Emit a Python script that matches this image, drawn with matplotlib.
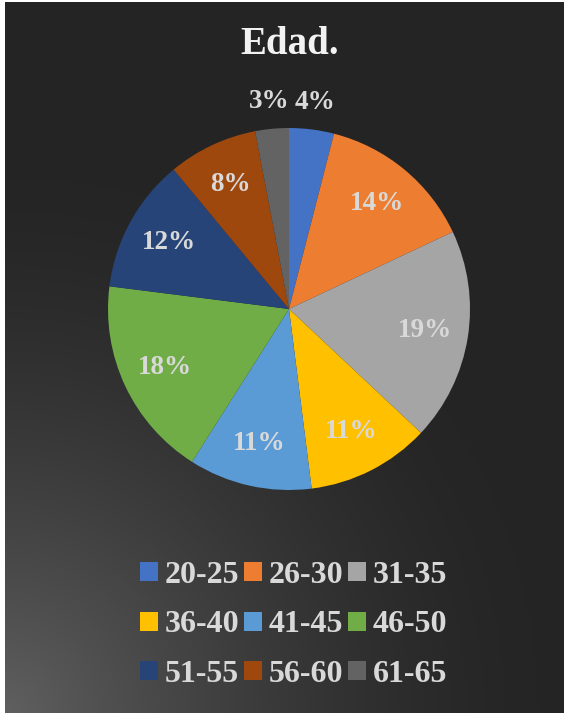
import matplotlib

matplotlib.use("Agg")

import matplotlib.pyplot as plt
import numpy as np
from matplotlib.patches import Patch

TITLE = "Edad."
AGE_GROUPS = ["20-25", "26-30", "31-35", "36-40", "41-45", "46-50", "51-55", "56-60", "61-65"]
SHARES = [4, 14, 19, 11, 11, 18, 12, 8, 3]
COLORS = ["#4472C4", "#ED7D31", "#A5A5A5", "#FFC000", "#5B9BD5", "#70AD47", "#264478", "#9E480E", "#636363"]

W, H = 564, 713
TEXT_COLOR = "#d9d9d9"
FONT = ["Liberation Serif", "DejaVu Serif"]

fig = plt.figure(figsize=(W / 100, H / 100), dpi=100, facecolor="white")

# background panel with a light glow in the lower-left corner
bg = fig.add_axes([5 / W, 0, (W - 5) / W, (H - 2) / H])
yy, xx = np.mgrid[0:H, 0:W]
dist = np.hypot(xx, H - yy) / 540.0
glow = np.clip(1 - dist, 0, 1) ** 1.5
shade = 0.145 + 0.23 * glow
bg.imshow(np.dstack([shade] * 3), extent=[0, 1, 0, 1], aspect="auto", origin="upper")
bg.set_axis_off()

cx, cy, r = 289, 309, 181
ax = fig.add_axes([(cx - r) / W, (H - cy - r) / H, 2 * r / W, 2 * r / H])
wedges, texts = ax.pie(
    SHARES,
    colors=COLORS,
    startangle=90,
    counterclock=False,
    radius=1,
    labels=[f"{v}%" for v in SHARES],
    labeldistance=0.76,
    wedgeprops={"linewidth": 0},
    textprops={"color": TEXT_COLOR, "fontsize": 19.5, "fontweight": "bold", "family": FONT},
)
for i in (0, len(SHARES) - 1):
    x, y = texts[i].get_position()
    scale = 1.15 / 0.76
    texts[i].set_position((x * scale, y * scale))
for t in texts:
    t.set_ha("center")
    t.set_va("center")
ax.set_xlim(-1, 1)
ax.set_ylim(-1, 1)
ax.set_aspect("equal")
ax.set_axis_off()

fig.text(290 / W, 1 - 44 / H, TITLE, ha="center", va="center", color="#f2f2f2",
         fontsize=28, fontweight="bold", family=FONT)

# legend fills column by column, so reorder to read across rows
ncol = 3
order = [row * ncol + col for col in range(ncol) for row in range(len(AGE_GROUPS) // ncol)]
handles = [Patch(facecolor=COLORS[i], edgecolor="none") for i in order]
labels = [AGE_GROUPS[i] for i in order]
leg = fig.legend(
    handles,
    labels,
    ncol=ncol,
    loc="center",
    bbox_to_anchor=(294 / W, 1 - 625 / H),
    frameon=False,
    handlelength=0.55,
    handleheight=0.55,
    handletextpad=0.22,
    columnspacing=0.15,
    labelspacing=0.64,
    prop={"family": FONT, "weight": "bold", "size": 23},
)
for t in leg.get_texts():
    t.set_color(TEXT_COLOR)

fig.savefig("out.png", dpi=100, facecolor=fig.get_facecolor())
